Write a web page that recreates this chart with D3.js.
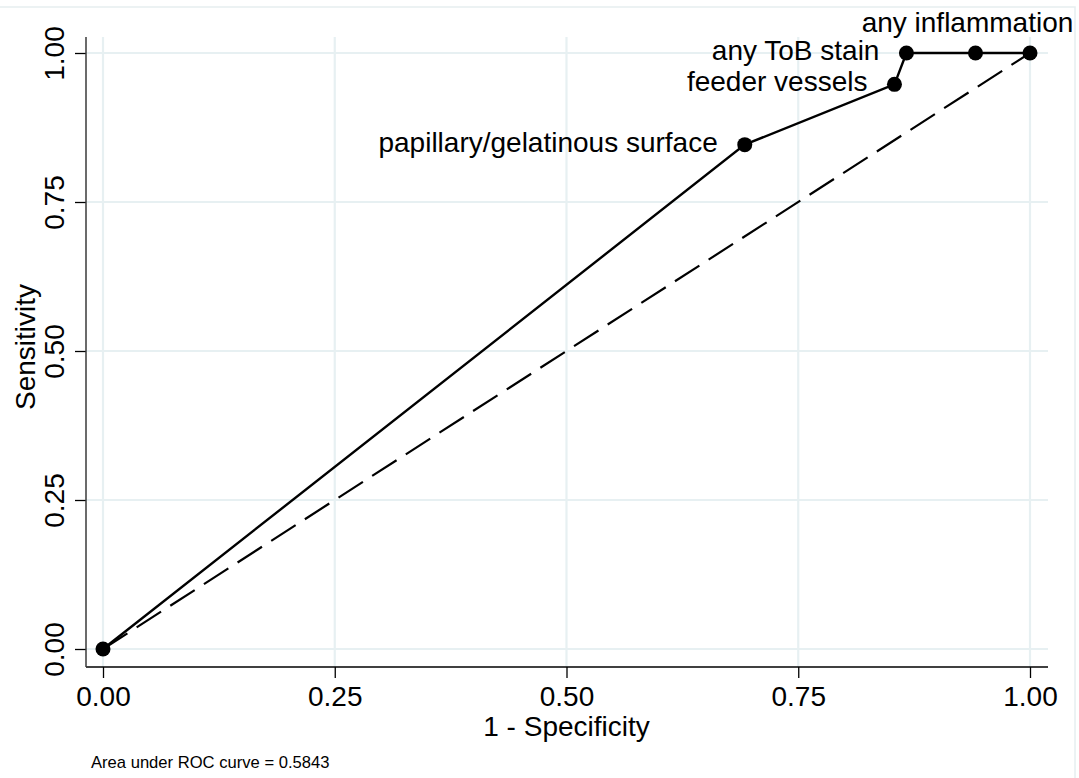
<!DOCTYPE html>
<html>
<head>
<meta charset="utf-8">
<script src="https://cdn.jsdelivr.net/npm/d3@7"></script>
<style>
  html, body { margin: 0; padding: 0; background: #fff; }
  svg { display: block; font-family: "Liberation Sans", Arial, Helvetica, sans-serif; }
</style>
</head>
<body>
<svg id="chart" width="1079" height="778"></svg>
<script>
// ---- data ----
const fpr = [0, 0.6923, 0.8538, 0.8667, 0.9412, 1];          // 1 - Specificity
const sens = [0, 0.8462, 0.9474, 1, 1, 1];                    // Sensitivity
const pointLabels = ["", "papillary/gelatinous surface", "feeder vessels", "any ToB stain", "any inflammation", ""];
const labelClock = [0, 9, 9, 9, 12, 0];                       // label clock position
const xTicks = [0, 0.25, 0.5, 0.75, 1];
const yTicks = [0, 0.25, 0.5, 0.75, 1];
const refLine = [0, 1];
const xTitle = "1 - Specificity";
const yTitle = "Sensitivity";
const note = "Area under ROC curve = 0.5843";

// ---- layout ----
const svg = d3.select("#chart");
const plot = { left: 86, right: 1048, top: 37, bottom: 667 };
const x = d3.scaleLinear().domain([0, 1]).range([103, 1030]);
const y = d3.scaleLinear().domain([0, 1]).range([649, 53]);
const fmt = d3.format(".2f");
const gridColor = "#e7f0f2";

// outer frame
svg.append("rect").attr("x", -2).attr("y", 7).attr("width", 1077).attr("height", 800)
  .attr("fill", "none").attr("stroke", "#e6eef0").attr("stroke-width", 1.5);

// gridlines
svg.append("g").selectAll("line").data(xTicks).join("line")
  .attr("x1", d => x(d)).attr("x2", d => x(d))
  .attr("y1", plot.top).attr("y2", plot.bottom)
  .attr("stroke", gridColor).attr("stroke-width", 2.2);
svg.append("g").selectAll("line").data(yTicks).join("line")
  .attr("x1", plot.left).attr("x2", plot.right)
  .attr("y1", d => y(d)).attr("y2", d => y(d))
  .attr("stroke", gridColor).attr("stroke-width", 2.2);

// axes
const xAxis = d3.axisBottom(x).tickValues(xTicks).tickFormat(fmt).tickSize(11).tickPadding(8);
const gx = svg.append("g").attr("transform", `translate(0,${plot.bottom})`).call(xAxis);
gx.select(".domain").remove();
gx.append("line").attr("x1", plot.left).attr("x2", plot.right).attr("y1", 0).attr("y2", 0)
  .attr("stroke", "#000").attr("stroke-width", 1.5);
gx.selectAll(".tick line").attr("stroke", "#000").attr("stroke-width", 1.3);
gx.selectAll(".tick text").attr("font-size", 28).attr("fill", "#000")
  .attr("font-family", '"Liberation Sans", Arial, sans-serif').attr("dy", null).attr("y", 39);

const yAxis = d3.axisLeft(y).tickValues(yTicks).tickFormat(fmt).tickSize(11);
const gy = svg.append("g").attr("transform", `translate(${plot.left},0)`).call(yAxis);
gy.select(".domain").remove();
gy.append("line").attr("x1", 0).attr("x2", 0).attr("y1", plot.top).attr("y2", plot.bottom)
  .attr("stroke", "#3a3a3a").attr("stroke-width", 1.5);
gy.selectAll(".tick line").attr("stroke", "#000").attr("stroke-width", 1.3);
gy.selectAll(".tick text")
  .attr("font-size", 28).attr("fill", "#000")
  .attr("font-family", '"Liberation Sans", Arial, sans-serif')
  .attr("x", null).attr("dy", null)
  .attr("text-anchor", "middle")
  .attr("transform", "translate(-22,0) rotate(-90)");

// axis titles
svg.append("text").attr("x", x(0.5)).attr("y", 736).attr("text-anchor", "middle")
  .attr("font-size", 28).text(xTitle);
svg.append("text").attr("transform", `translate(35,${y(0.5) - 4}) rotate(-90)`)
  .attr("text-anchor", "middle").attr("font-size", 28).text(yTitle);

// note
svg.append("text").attr("x", 91).attr("y", 768).attr("font-size", 16.6).text(note);

// reference diagonal
svg.append("line")
  .attr("x1", x(refLine[0])).attr("y1", y(refLine[0]))
  .attr("x2", x(refLine[1])).attr("y2", y(refLine[1]))
  .attr("stroke", "#000").attr("stroke-width", 2.2).attr("stroke-dasharray", "29,11");

// ROC curve
const pts = fpr.map((f, i) => ({ f, s: sens[i], label: pointLabels[i], pos: labelClock[i] }));
svg.append("path").datum(pts)
  .attr("d", d3.line().x(d => x(d.f)).y(d => y(d.s)))
  .attr("fill", "none").attr("stroke", "#000").attr("stroke-width", 2.4);
svg.append("g").selectAll("circle").data(pts).join("circle")
  .attr("cx", d => x(d.f)).attr("cy", d => y(d.s)).attr("r", 7.5).attr("fill", "#000");

// point labels
svg.append("g").selectAll("text").data(pts.filter(d => d.label)).join("text")
  .attr("font-size", 28)
  .attr("x", d => d.pos === 9 ? x(d.f) - 27 : x(d.f) - 8)
  .attr("y", d => d.pos === 9 ? y(d.s) + 7 : y(d.s) - 21)
  .attr("text-anchor", d => d.pos === 9 ? "end" : "middle")
  .text(d => d.label);
</script>
</body>
</html>
